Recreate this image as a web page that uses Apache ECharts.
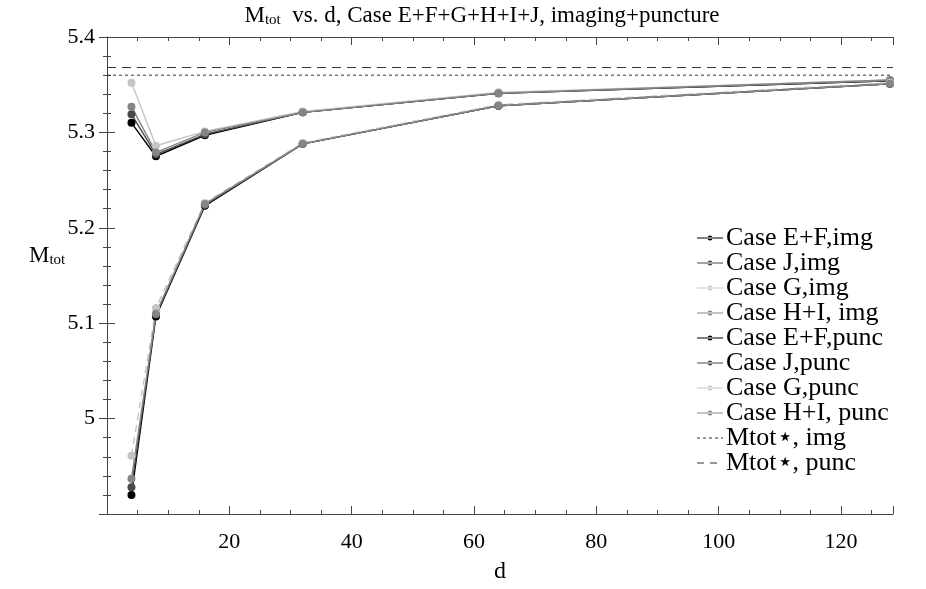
<!DOCTYPE html>
<html><head><meta charset="utf-8">
<script src="https://cdn.jsdelivr.net/npm/echarts@6/dist/echarts.min.js"></script>
<style>html,body{margin:0;padding:0;background:#fff}#c{width:926px;height:589px}</style>
</head><body><div id="c"></div>
<script>
var dValues = [4, 8, 16, 32, 64, 128];
var imgEF = [5.310, 5.275, 5.297, 5.321, 5.341, 5.354];
var imgJ  = [5.319, 5.277, 5.298, 5.321, 5.341, 5.354];
var imgG  = [5.352, 5.286, 5.301, 5.322, 5.342, 5.355];
var imgHI = [5.327, 5.279, 5.300, 5.321, 5.341, 5.355];
var puncEF = [4.920, 5.107, 5.223, 5.288, 5.328, 5.351];
var puncJ  = [4.928, 5.109, 5.224, 5.288, 5.328, 5.351];
var puncG  = [4.961, 5.116, 5.226, 5.289, 5.329, 5.352];
var puncHI = [4.937, 5.110, 5.225, 5.288, 5.328, 5.351];
var mtotStarImg = 5.360;
var mtotStarPunc = 5.368;
var xRange = [0, 128.5];
var yRange = [4.9, 5.4];

var FONT = 'Liberation Serif';
function pts(vals){ return dValues.map(function(d,i){ return [d, vals[i]]; }); }
function hline(v){ return [[xRange[0], v],[xRange[1], v]]; }

var names = ['Case E+F,img','Case J,img','Case G,img','Case H+I, img',
             'Case E+F,punc','Case J,punc','Case G,punc','Case H+I, punc',
             'Mtot\u22c6, img','Mtot\u22c6, punc'];
var cols = ['#000000','#4a4a4a','#c4c4c4','#858585','#000000','#4a4a4a','#c4c4c4','#858585'];
var vals = [imgEF, imgJ, imgG, imgHI, puncEF, puncJ, puncG, puncHI];

var CORNERS = 'M0,0h0.01v0.01h-0.01z M26,10h-0.01v-0.01h0.01z ';
var ICON_DOT = 'path://' + CORNERS + 'M0,4.4h26v1.2h-26z M10.5,5a2.5,2.5 0 1,0 5,0a2.5,2.5 0 1,0 -5,0z';
var ICON_DOTTED = 'path://' + CORNERS + 'M0,4.5h3v1h-3z M6,4.5h3v1h-3z M12,4.5h3v1h-3z M18,4.5h3v1h-3z M24,4.5h2v1h-2z';
var ICON_DASHED = 'path://' + CORNERS + 'M0,4.5h7v1h-7z M13,4.5h7v1h-7z';

var series = vals.map(function(v,i){
  return {
    name: names[i], type: 'line', data: pts(v),
    symbol: 'circle', symbolSize: 8,
    itemStyle: {color: cols[i]},
    lineStyle: {color: cols[i], width: 1.4, type: (i===6 ? [7,5] : 'solid')},
    emphasis: {disabled: true}, animation: false, z: 3
  };
});
series.push({name: names[8], type:'line', data: hline(mtotStarImg), symbol:'none',
  itemStyle:{color:'#333'}, lineStyle:{color:'#333', width:1, type:[3,3]}, animation:false});
series.push({name: names[9], type:'line', data: hline(mtotStarPunc), symbol:'none',
  itemStyle:{color:'#333'}, lineStyle:{color:'#333', width:1, type:[9,6]}, animation:false});
series.push({type:'line', xAxisIndex:1, yAxisIndex:1, data:[], silent:true});

var legendData = names.map(function(n,i){
  return {name: n, icon: i<8 ? ICON_DOT : (i===8 ? ICON_DOTTED : ICON_DASHED)};
});

var chart = echarts.init(document.getElementById('c'));
chart.setOption({
  backgroundColor: '#fff',
  animation: false,
  title: {
    text: '{m|M}{s|tot}{m|  vs. d, Case E+F+G+H+I+J, imaging+puncture}',
    left: 477, top: -2, textAlign: 'center',
    textStyle: {rich: {
      m: {fontFamily: FONT, fontSize: 23, color:'#000', fontWeight:'normal'},
      s: {fontFamily: FONT, fontSize: 15, color:'#000', fontWeight:'normal', verticalAlign:'bottom', padding:[10,0,0,0]}
    }}
  },
  graphic: [{
    type: 'text', left: 29, top: 244,
    style: {
      text: '{m|M}{s|tot}',
      rich: {
        m: {fontFamily: FONT, fontSize: 23, fill:'#000'},
        s: {fontFamily: FONT, fontSize: 15, fill:'#000', verticalAlign:'bottom', padding:[10,0,0,0]}
      }
    }
  }],
  grid: {left: 107, right: 33, top: 37, bottom: 63, containLabel: false},
  legend: {
    orient: 'vertical', left: 692, top: 220,
    itemWidth: 26, itemHeight: 10, itemGap: -1,
    data: legendData,
    textStyle: {fontFamily: FONT, fontSize: 26, lineHeight: 22.5, height: 22.5, color: '#000', padding:[0,0,0,-2]}
  },
  xAxis: [{
    type: 'value', min: xRange[0], max: xRange[1], interval: 20,
    name: 'd', nameLocation: 'middle', nameGap: 46,
    nameTextStyle: {fontFamily: FONT, fontSize: 24, color:'#000'},
    axisLine: {show: true, lineStyle:{color:'#444', width:1}},
    axisTick: {inside: true, length: 8, lineStyle:{color:'#444'}},
    minorTick: {show: true, splitNumber: 4, length: 4, lineStyle:{color:'#444'}},
    axisLabel: {fontFamily: FONT, fontSize: 22, color:'#000', margin: 17, showMinLabel:false, showMaxLabel:false},
    splitLine: {show: false}
  },{
    type: 'value', min: xRange[0], max: xRange[1], interval: 20, position: 'top',
    axisLine: {show: true, lineStyle:{color:'#444', width:1}},
    axisTick: {inside: true, length: 8, lineStyle:{color:'#444'}},
    minorTick: {show: true, splitNumber: 4, length: 4, lineStyle:{color:'#444'}},
    axisLabel: {show: false}, splitLine: {show: false}
  }],
  yAxis: [{
    type: 'value', min: yRange[0], max: yRange[1], interval: 0.1,
    axisLine: {show: true, lineStyle:{color:'#444', width:1}},
    axisTick: {inside: true, length: 8, lineStyle:{color:'#444'}},
    minorTick: {show: true, splitNumber: 5, length: 4, lineStyle:{color:'#444'}},
    axisLabel: {fontFamily: FONT, fontSize: 22, color:'#000', margin: 12, showMinLabel:false},
    splitLine: {show: false}
  },{
    type: 'value', min: yRange[0], max: yRange[1], interval: 0.1, position: 'right',
    axisLine: {show: true, lineStyle:{color:'#444', width:1}},
    axisTick: {inside: true, length: 8, lineStyle:{color:'#444'}},
    minorTick: {show: true, splitNumber: 5, length: 4, lineStyle:{color:'#444'}},
    axisLabel: {show: false}, splitLine: {show: false}
  }],
  series: series
});
</script></body></html>
